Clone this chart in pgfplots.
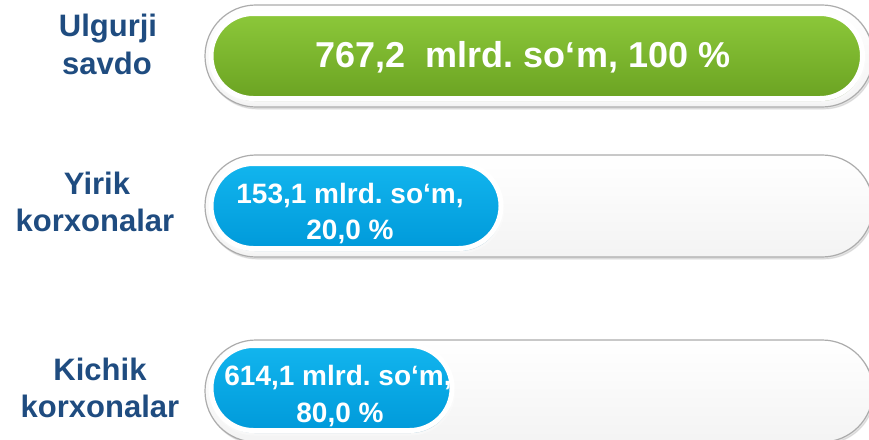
\documentclass[border=0pt]{standalone}
\usepackage{fontspec}
\setmainfont{Liberation Sans}
\usepackage{pgfplots}
\pgfplotsset{compat=1.18}
\usetikzlibrary{shadows}
\frenchspacing
\definecolor{lab}{HTML}{1F4C80}
\definecolor{gTop}{HTML}{8CC83A}
\definecolor{gBot}{HTML}{6BA322}
\definecolor{bTop}{HTML}{12B5EE}
\definecolor{bBot}{HTML}{009ADA}
\begin{document}
\frenchspacing
\begin{tikzpicture}
\pgfplotsset{rowaxis/.style={at={(0,0)},anchor=south west,width=869pt,height=439pt,
  scale only axis,ymin=0,ymax=439,y dir=reverse,axis lines=none,xbar,bar shift=0pt,clip=true},
  track/.style={draw=gray!65,line width=1.2pt,top color=white,bottom color=gray!9,
  rounded corners=50.9pt,drop shadow={opacity=0.25,shadow xshift=1.5pt,shadow yshift=-2pt}},
  pill/.style={draw=white,line width=5pt,rounded corners=42.4pt,
  drop shadow={opacity=0.3,shadow xshift=1pt,shadow yshift=-2.5pt}}}
% background tracks (lengths in pixels of the reference)
\begin{axis}[rowaxis,xmin=-205,xmax=664,bar width=102]
\addplot[track] coordinates {(668,56)};
\addplot[track] coordinates {(668,206)};
\addplot[track] coordinates {(668,391)};
\end{axis}
% coloured bars (drawn lengths as seen in the reference)
\begin{axis}[rowaxis,xmin=-211,xmax=658,bar width=85]
\addplot[pill,top color=gTop,bottom color=gBot] coordinates {(651.5,56)};
\addplot[pill,top color=bTop,bottom color=bBot] coordinates {(290,206)};
\addplot[pill,top color=bTop,bottom color=bBot] coordinates {(241,388)};
\end{axis}
% category labels
\begin{scope}[every node/.style={anchor=base,inner sep=0pt,text=lab,font=\bfseries\fontsize{31}{37}\selectfont}]
\node at (108pt,402pt) {Ulgurji};
\node at (107pt,364pt) {savdo};
\node at (97pt,244pt) {Yirik};
\node at (95pt,207pt) {korxonalar};
\node at (100pt,59pt) {Kichik};
\node at (100pt,22pt) {korxonalar};
\end{scope}
% value labels
\begin{scope}[every node/.style={anchor=base,inner sep=0pt,text=white}]
\node[font=\bfseries\fontsize{36}{40}\selectfont] at (523pt,371pt) {767,2\ \ mlrd. so‘m, 100 \%};
\node[font=\bfseries\fontsize{28}{34}\selectfont] at (350pt,235pt) {153,1 mlrd. so‘m,};
\node[font=\bfseries\fontsize{28}{34}\selectfont] at (350pt,199pt) {20,0 \%};
\node[font=\bfseries\fontsize{28}{34}\selectfont] at (338pt,54pt) {614,1 mlrd. so‘m,};
\node[font=\bfseries\fontsize{28}{34}\selectfont] at (340pt,17pt) {80,0 \%};
\end{scope}
\pgfresetboundingbox
\path[use as bounding box] (0,0) rectangle (869pt,439pt);
\end{tikzpicture}
\end{document}
